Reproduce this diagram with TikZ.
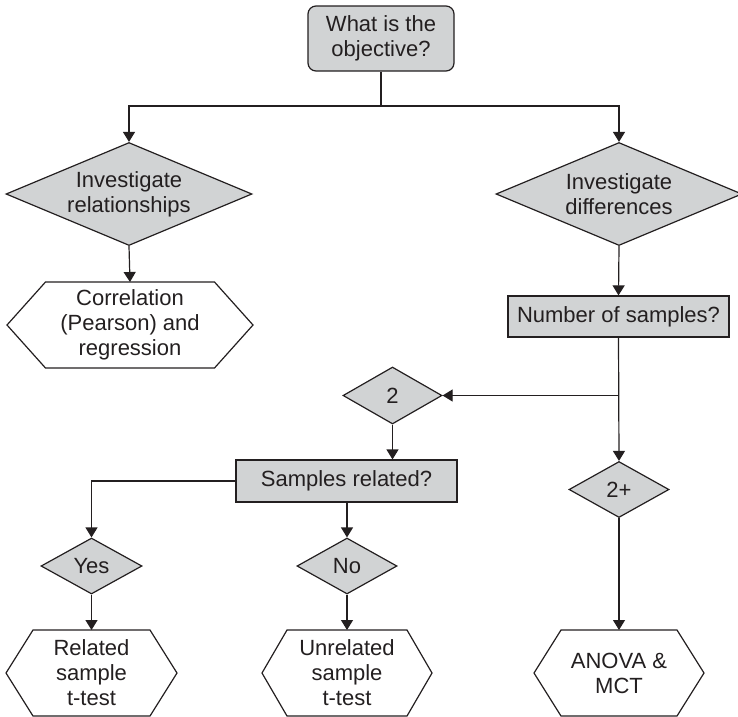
\documentclass[tikz,border=0pt]{standalone}
\usepackage{fontspec}
\setmainfont{Liberation Sans}
\usetikzlibrary{shapes.geometric,arrows.meta}
\definecolor{ink}{HTML}{231F20}
\definecolor{boxgrey}{HTML}{D1D3D4}
\newcommand{\hexoutline}[2]{\draw[line] (#1.west) -- ([xshift=#2]#1.north west) -- ([xshift=-#2]#1.north east) -- (#1.east) -- ([xshift=-#2]#1.south east) -- ([xshift=#2]#1.south west) -- cycle;}
\begin{document}
\begin{tikzpicture}[x=1pt,y=-1pt,
  font=\fontsize{22}{25}\selectfont,
  every node/.style={text=ink, align=center, inner sep=0pt},
  line/.style={draw=ink, line width=1.2pt},
  arr/.style={line, -{Triangle[width=12pt,length=10pt]}},
  greybox/.style={rectangle, draw=ink, fill=boxgrey, line width=1.2pt},
  dec/.style={diamond, draw=ink, fill=boxgrey, line width=1.2pt, aspect=2.4},
  hexn/.style={rectangle, minimum height=86pt, outer sep=0pt}]
\useasboundingbox (0,0) rectangle (738,716);

\node[greybox, rounded corners=8pt, minimum width=146pt, minimum height=65pt] (obj) at (381,38.5) {What is the\\objective?};
\node[dec, minimum width=246pt, minimum height=103pt] (rel) at (129,194) {Investigate\\relationships};
\node[dec, minimum width=246pt, minimum height=103pt] (dif) at (619,194) {Investigate\\differences};
\node[hexn, minimum width=246pt] (corr) at (130,325) {Correlation\\(Pearson) and\\regression};
\node[greybox, minimum width=221pt, minimum height=41pt] (num) at (618.5,316.5) {Number of samples?};
\node[dec, aspect=1.75, minimum width=99pt, minimum height=57pt] (two) at (392.5,395.5) {2};
\node[dec, aspect=1.75, minimum width=100pt, minimum height=56pt] (more) at (619,489.5) {2+};
\node[greybox, minimum width=221pt, minimum height=42pt] (srel) at (346.5,481) {Samples related?};
\node[dec, aspect=1.8, minimum width=101pt, minimum height=56pt] (yes) at (91.5,566) {Yes};
\node[dec, aspect=1.8, minimum width=100pt, minimum height=56pt] (no) at (347,566) {No};
\node[hexn, minimum width=171pt] (rst) at (91.5,673) {Related\\sample\\t-test};
\node[hexn, minimum width=170pt] (ust) at (347,673) {Unrelated\\sample\\t-test};
\node[hexn, minimum width=170pt] (anova) at (619,673) {ANOVA \&\\MCT};

\hexoutline{corr}{38.5pt}
\hexoutline{rst}{27pt}
\hexoutline{ust}{25pt}
\hexoutline{anova}{27pt}

\coordinate (split) at (381,106);
\draw[line] (obj.south) -- (split);
\draw[arr] (split) -| (rel.north);
\draw[arr] (split) -| (dif.north);
\draw[arr] (rel.south) -- (corr.north);
\draw[arr] (dif.south) -- (num.north);
\coordinate (fork) at (num.south |- two.east);
\draw[arr] (num.south) -- (more.north);
\draw[arr] (fork) -- (two.east);
\draw[arr] (two.south) -- (two.south |- srel.north);
\draw[arr] (srel.west) -| (yes.north);
\draw[arr] (no.north |- srel.south) -- (no.north);
\draw[arr] (yes.south) -- (rst.north);
\draw[arr] (no.south) -- (ust.north);
\draw[arr] (more.south) -- (anova.north);
\end{tikzpicture}
\end{document}
